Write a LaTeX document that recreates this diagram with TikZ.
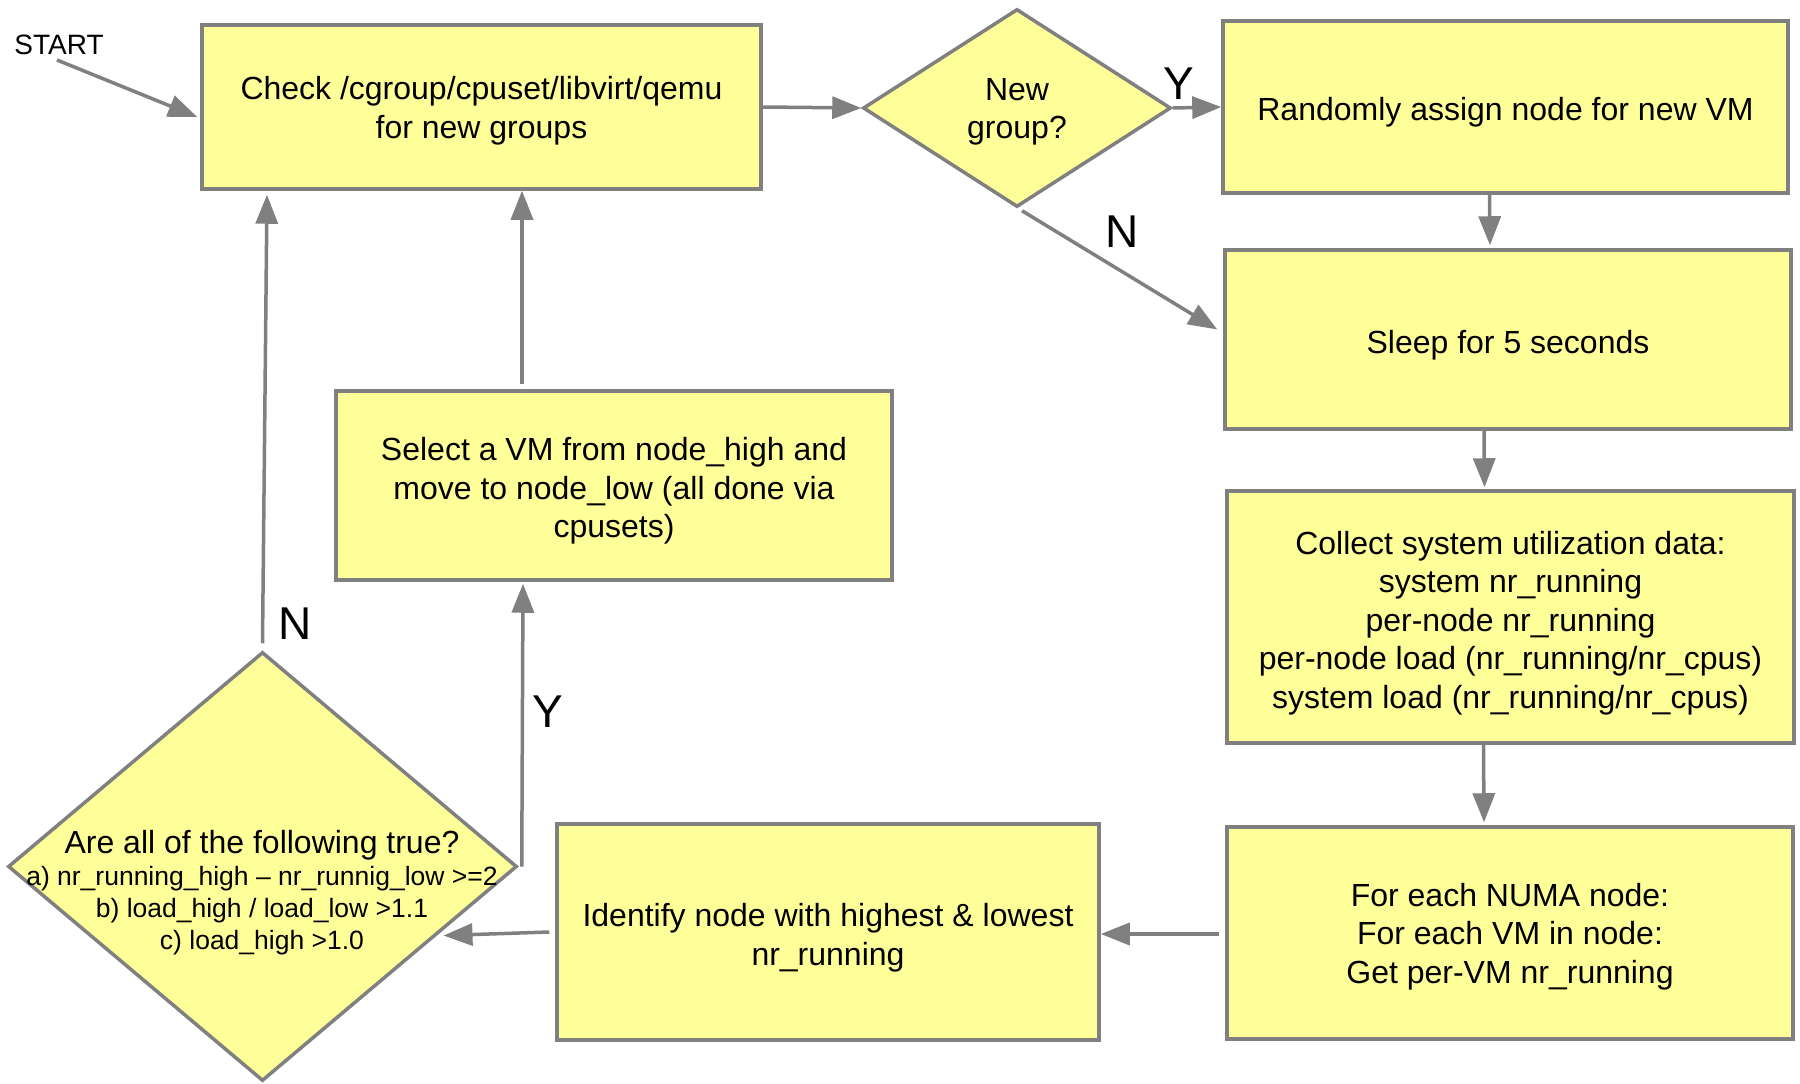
\documentclass[tikz,border=0pt]{standalone}
\usepackage{fontspec}
\setmainfont{Liberation Sans}
\usetikzlibrary{shapes.geometric,arrows.meta,calc}
\definecolor{boxfill}{HTML}{FFFF99}
\definecolor{edgegray}{HTML}{808080}
\begin{document}
\begin{tikzpicture}[x=1pt,y=-1pt,
 box/.style={draw=edgegray,fill=boxfill,line width=3.5pt,rectangle,inner sep=0pt},
 dia/.style={draw=edgegray,fill=boxfill,line width=3.5pt,diamond,inner sep=0pt},
 txt/.style={align=center,inner sep=0pt,font=\fontsize{32}{38.5}\selectfont},
 arr/.style={draw=edgegray,line width=3.5pt,-{Triangle[length=29pt,width=22pt]}},
 lbl/.style={font=\fontsize{46}{50}\selectfont,inner sep=0pt},
]
\useasboundingbox[fill=white] (0,0) rectangle (1800,1084);

% boxes
\node[box,minimum width=559pt,minimum height=164pt] (check) at (481.5,107) {};
\node[txt] (checkt) at ($(check.center)+(0,3.5)$) {Check /cgroup/cpuset/libvirt/qemu\\for new groups};
\node[box,minimum width=565pt,minimum height=172pt] (rand) at (1505.5,107) {};
\node[txt] (randt) at ($(rand.center)+(0,5)$) {Randomly assign node for new VM};
\node[box,minimum width=566pt,minimum height=179pt] (sleep) at (1508,339.5) {};
\node[txt] (sleept) at ($(sleep.center)+(0,5.5)$) {Sleep for 5 seconds};
\node[box,minimum width=567pt,minimum height=252pt] (collect) at (1510.5,617) {};
\node[txt] (collectt) at ($(collect.center)+(0,6)$) {Collect system utilization data:\\system nr\_running\\per-node nr\_running\\per-node load (nr\_running/nr\_cpus)\\system load (nr\_running/nr\_cpus)};
\node[box,minimum width=566pt,minimum height=212pt] (foreach) at (1510,933) {};
\node[txt] (foreacht) at ($(foreach.center)+(0,3.5)$) {For each NUMA node:\\For each VM in node:\\Get per-VM nr\_running};
\node[box,minimum width=542pt,minimum height=216pt] (ident) at (828,932) {};
\node[txt] (identt) at ($(ident.center)+(0,5.5)$) {Identify node with highest \& lowest\\nr\_running};
\node[box,minimum width=556pt,minimum height=189pt] (sel) at (614,485.5) {};
\node[txt] (selt) at ($(sel.center)+(0,5.5)$) {Select a VM from node\_high and\\move to node\_low (all done via\\cpusets)};

% diamonds
\node[dia,minimum width=308pt,minimum height=198pt] (d1) at (1017,108) {};
\node[txt] (d1t) at (1017,112) {New\\group?};
\node[dia,minimum width=509pt,minimum height=429pt] (d2) at (262.5,866.5) {};
\node[txt,font=\fontsize{26.5}{32}\selectfont] (d2t) at (262,893) {{\fontsize{32}{32}\selectfont Are all of the following true?}\\a) nr\_running\_high – nr\_runnig\_low >=2\\b) load\_high / load\_low >1.1\\c) load\_high >1.0};

% start
\node[inner sep=0pt,font=\fontsize{28}{32}\selectfont] (start) at (59,45) {START};
\coordinate (st) at (57,60);

% connectors
\draw[arr] (st) -- ($(check.west)+(-3,10)$);
\draw[arr] (check.east) -- (d1.west);
\draw[arr] (d1.east) -- (rand.west);
\draw[arr] ($(rand.south)+(-16,0)$) -- ($(sleep.north)+(-18,-3)$);
\draw[arr] ($(d1.south)+(5,2)$) -- ($(sleep.west)+(-6,-10)$);
\draw[arr] ($(sleep.south)+(-24,0)$) -- ($(collect.north)+(-26,-2)$);
\draw[arr] ($(collect.south)+(-27,0)$) -- ($(foreach.north)+(-26,-3)$);
\draw[arr] ($(foreach.west)+(-6,1)$) -- ($(ident.east)+(0,2)$);
\draw[arr] ($(ident.west)+(-6,0)$) -- ($(d2.center)+(181,69)$);
\draw[arr] ($(d2.east)+(3,0)$) -- ($(sel.south)+(-91,2)$);
\draw[arr] ($(sel.north)+(-92,-5)$) -- ($(check.south)+(40.5,0)$);
\draw[arr] ($(d2.north)+(0,-7)$) -- ($(check.south)+(-214.5,4)$);

% labels
\node[lbl] (ly1) at (1179,84) {Y};
\node[lbl] (ln1) at (1122,232) {N};
\node[lbl] (ln2) at (295,624) {N};
\node[lbl] (ly2) at (548,712) {Y};
\end{tikzpicture}
\end{document}
